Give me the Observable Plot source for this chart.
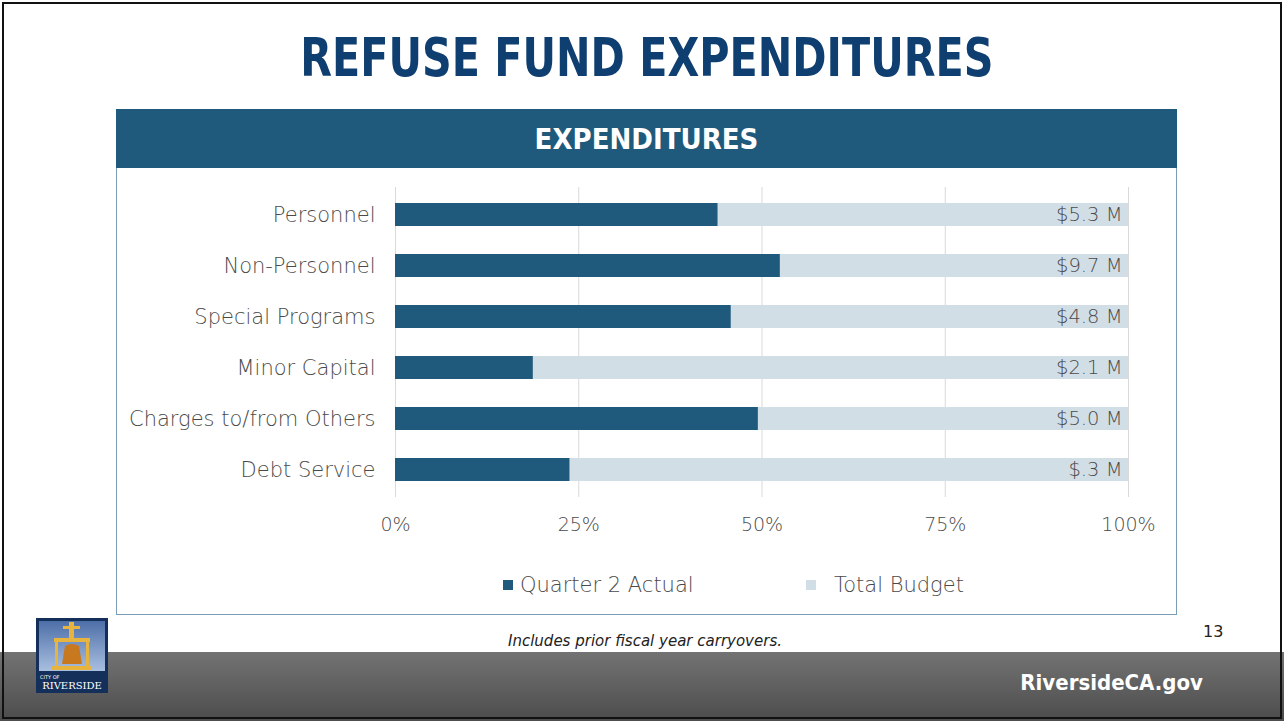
<!DOCTYPE html>
<html>
<head>
<meta charset="utf-8">
<script src="https://cdn.jsdelivr.net/npm/d3@7"></script>
<script src="https://cdn.jsdelivr.net/npm/@observablehq/plot@0.6"></script>
<style>
  html, body { margin: 0; padding: 0; background: #fff; }
  #slide { position: relative; width: 1284px; height: 721px; overflow: hidden; background: #fff; font-family: "DejaVu Sans", sans-serif; }
  #frame { position: absolute; left: 2px; top: 2px; width: 1280px; height: 717px; border: 2px solid #111; box-sizing: border-box; pointer-events: none; z-index: 10; }
  #title { position: absolute; left: 5px; width: 1284px; top: 26px; text-align: center; }
  #title span { display: inline-block; font-family: "DejaVu Sans Condensed", "DejaVu Sans", sans-serif; font-weight: bold; font-size: 54px; color: #0f3f70; transform: scaleX(0.85); transform-origin: center; }
  #box { position: absolute; left: 116px; top: 109px; width: 1061px; height: 506px; border: 1px solid #7a9db5; box-sizing: border-box; }
  #header { position: absolute; left: 116px; top: 109px; width: 1061px; height: 59px; background: #1f5a7c; color: #fff; text-align: center; line-height: 60px; font-family: "DejaVu Sans Condensed", "DejaVu Sans", sans-serif; font-weight: bold; font-size: 29px; }
  #chart { position: absolute; left: 116px; top: 170px; }
  #legend { position: absolute; top: 573px; left: 0; width: 1284px; height: 24px; font-size: 21px; color: #4a4a4a; font-weight: 200; }
  .sw { position: absolute; top: 7px; width: 10px; height: 10px; }
  .lt { position: absolute; top: 0; line-height: 24px; white-space: nowrap; }
  #note { position: absolute; left: 0; width: 1290px; top: 632px; text-align: center; font-style: italic; font-size: 15px; color: #222; }
  #page { position: absolute; left: 1203px; top: 622px; font-size: 16px; color: #222; }
  #footer { position: absolute; left: 0; top: 652px; width: 1284px; height: 69px; background: linear-gradient(#737373, #4c4c4c); }
  #site { position: absolute; right: 81px; top: 670px; color: #fff; font-weight: bold; font-size: 22px; font-family: "DejaVu Sans Condensed", "DejaVu Sans", sans-serif; }
  #logo { position: absolute; left: 36px; top: 618px; width: 72px; height: 75px; background: #14305a; }
</style>
</head>
<body>
<div id="slide">
  <div id="title"><span>REFUSE FUND EXPENDITURES</span></div>
  <div id="box"></div>
  <div id="header">EXPENDITURES</div>
  <div id="chart"></div>
  <div id="legend"></div>
  <div id="footer"></div>
  <div id="note">Includes prior fiscal year carryovers.</div>
  <div id="page">13</div>
  <div id="site">RiversideCA.gov</div>
  <div id="logo">
    <svg width="72" height="75" viewBox="0 0 72 75">
      <defs><linearGradient id="sky" x1="0" y1="0" x2="0" y2="1"><stop offset="0" stop-color="#4d6fa8"/><stop offset="1" stop-color="#a9bfe0"/></linearGradient></defs>
      <rect x="3" y="3" width="66" height="50" fill="url(#sky)"/>
      <rect x="33" y="4" width="5" height="18" fill="#e7b440"/>
      <rect x="27" y="8" width="17" height="3" fill="#e7b440"/>
      <rect x="18" y="20" width="36" height="4" fill="#e7b440"/>
      <rect x="19" y="24" width="3" height="25" fill="#e7b440"/>
      <rect x="50" y="24" width="3" height="25" fill="#e7b440"/>
      <path d="M29 28 Q36 24 43 28 L46 46 L26 46 Z" fill="#c8781e"/>
      <rect x="16" y="48" width="40" height="4" fill="#e7b440"/>
      <text x="4" y="61" font-size="5" fill="#fff" font-family="DejaVu Sans">CITY OF</text>
      <text x="36" y="71" font-size="10" fill="#fff" text-anchor="middle" font-family="DejaVu Serif">RIVERSIDE</text>
    </svg>
  </div>
  <div id="frame"></div>
</div>
<script>
// Data
const categories = ["Personnel", "Non-Personnel", "Special Programs", "Minor Capital", "Charges to/from Others", "Debt Service"];
const actualShare = [0.44, 0.525, 0.458, 0.188, 0.495, 0.238];
const budgetLabels = ["$5.3 M", "$9.7 M", "$4.8 M", "$2.1 M", "$5.0 M", "$.3 M"];
const xTicks = [0, 0.25, 0.5, 0.75, 1];
const seriesNames = ["Quarter 2 Actual", "Total Budget"];
const seriesColors = ["#1f5a7c", "#d2dee6"];

const rows = categories.map((c, i) => ({category: c, actual: actualShare[i], budget: 1, label: budgetLabels[i]}));
const pct = d => Math.round(d * 100) + "%";

const chart = Plot.plot({
  width: 1060,
  height: 380,
  marginLeft: 279,
  marginRight: 48,
  marginTop: 17,
  marginBottom: 53,
  style: {fontFamily: "'DejaVu Sans', sans-serif", fontSize: "18px", color: "#4a4a4a", background: "transparent"},
  x: {domain: [0, 1], ticks: xTicks, tickFormat: pct},
  y: {domain: categories, paddingInner: 0.55, paddingOuter: 0.275},
  marks: [
    Plot.ruleX(xTicks, {stroke: "#d9d9d9", strokeWidth: 1}),
    Plot.barX(rows, {y: "category", x1: 0, x2: "budget", fill: seriesColors[1]}),
    Plot.barX(rows, {y: "category", x1: 0, x2: "actual", fill: seriesColors[0]}),
    Plot.text(rows, {y: "category", x: "budget", text: "label", textAnchor: "end", dx: -6, fill: "#4a4a4a", fontSize: 19.5, fontWeight: 200}),
    Plot.axisX({ticks: xTicks, tickSize: 0, tickPadding: 20, tickFormat: pct, fontSize: 19, fontWeight: 200, label: null}),
    Plot.axisY({tickSize: 0, tickPadding: 20, fontSize: 21, fontWeight: 200, label: null})
  ]
});
document.getElementById("chart").appendChild(chart);

// Legend
const legend = document.getElementById("legend");
const swatchX = [503, 806];
const labelX = [520, 834];
seriesNames.forEach((name, i) => {
  const sw = document.createElement("div");
  sw.className = "sw";
  sw.style.left = swatchX[i] + "px";
  sw.style.background = seriesColors[i];
  legend.appendChild(sw);
  const t = document.createElement("div");
  t.className = "lt";
  t.style.left = labelX[i] + "px";
  t.textContent = name;
  legend.appendChild(t);
});
</script>
</body>
</html>
